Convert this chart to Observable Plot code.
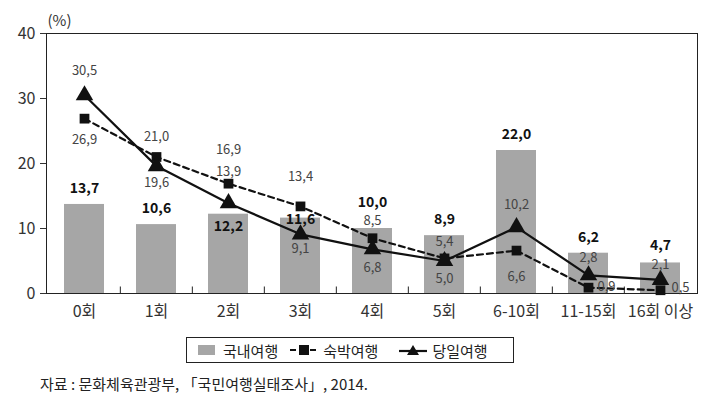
<!DOCTYPE html>
<html><head><meta charset="utf-8">
<script src="https://cdn.jsdelivr.net/npm/d3@7"></script>
<script src="https://cdn.jsdelivr.net/npm/@observablehq/plot@0.6"></script>
<style>
body{margin:0;background:#fff;font-family:'Noto Sans CJK KR',sans-serif;}
#wrap{position:relative;width:708px;height:400px;}
#legend{position:absolute;left:186px;top:337px;width:328px;height:26px;border:1px solid #222;box-sizing:border-box;display:flex;align-items:center;font-size:15px;color:#222;}
#legend span{display:inline-flex;align-items:center;}
#caption{position:absolute;left:40px;top:373px;font-size:15px;color:#222;}
</style></head>
<body><div id="wrap"><div id="chart"></div><div id="legend"></div><div id="caption"></div></div>
<script>
const categories = ["0회","1회","2회","3회","4회","5회","6-10회","11-15회","16회 이상"];
const domestic = [13.7,10.6,12.2,11.6,10.0,8.9,22.0,6.2,4.7];
const overnight = [26.9,21.0,16.9,13.4,8.5,5.4,6.6,0.9,0.5];
const dayTrip = [30.5,19.6,13.9,9.1,6.8,5.0,10.2,2.8,2.1];
const seriesNames = ["국내여행","숙박여행","당일여행"];
const yTicks = [0,10,20,30,40];

// label placement (pixels)
const barDy = [-16,-16,12,1,-26,-16,-16,-16,-17];
const overDy = [21,-20,-34,-30,-17,-17,26,-1,-2];
const overDx = [0,0,0,0,0,0,0,18,20];
const dayDy = [-24,17,-31,14,19,18,-22,-17,-15];

const rows = categories.map((c,i)=>({cat:c, dom:domestic[i], over:overnight[i], day:dayTrip[i], i}));
const fmt = v => v.toFixed(1).replace(".", ",");

const marks = [
  Plot.barY(rows, {x:"cat", y:"dom", fill:"#a6a6a6"}),
  Plot.frame({stroke:"#222", strokeWidth:1}),
  Plot.ruleX(categories.slice(1), {x: d=>d, y1:0, y2:1, stroke:"#222", dx: -((708-46-11)/9)/2}),
  Plot.line(rows, {x:"cat", y:"over", stroke:"#111", strokeWidth:2.2, strokeDasharray:"6,4"}),
  Plot.line(rows, {x:"cat", y:"day", stroke:"#111", strokeWidth:2.2}),
  Plot.dot(rows, {x:"cat", y:"over", symbol:"square", fill:"#111", r:5.5}),
  Plot.dot(rows, {x:"cat", y:"day", symbol:"triangle", fill:"#111", r:6.5}),
  Plot.text(["(%)"], {frameAnchor:"top-left", dx:1, dy:-18, fontSize:15, fill:"#333"}),
];
rows.forEach((d,i)=>{
  marks.push(Plot.text([d], {x:"cat", y:"dom", text:d=>fmt(d.dom), dy:barDy[i], fontSize:14, fontWeight:"bold", fill:"#111"}));
  marks.push(Plot.text([d], {x:"cat", y:"over", text:d=>fmt(d.over), dy:overDy[i], dx:overDx[i], fontSize:13, fill:"#444"}));
  marks.push(Plot.text([d], {x:"cat", y:"day", text:d=>fmt(d.day), dy:dayDy[i], fontSize:13, fill:"#444"}));
});

const chart = Plot.plot({
  width:708, height:330, marginTop:33, marginBottom:37, marginLeft:46, marginRight:11,
  style:{fontFamily:"'Noto Sans CJK KR', sans-serif", fontSize:"16px", color:"#333", background:"white"},
  x:{domain:categories, paddingInner:0.45, paddingOuter:0.225, label:null, tickSize:0, tickPadding:12},
  y:{domain:[0,40], ticks:yTicks, tickSize:6, tickPadding:5, label:null},
  marks
});
document.getElementById("chart").appendChild(chart);

const lg = document.getElementById("legend");
lg.innerHTML =
 `<span style="margin-left:11px"><svg width="17" height="10"><rect width="17" height="10" fill="#a6a6a6"/></svg><span style="margin-left:8px">${seriesNames[0]}</span></span>`+
 `<span style="margin-left:12px"><svg width="28" height="12"><line x1="0" x2="28" y1="6" y2="6" stroke="#111" stroke-width="2.2" stroke-dasharray="6,4"/><rect x="9" y="1" width="10" height="10" fill="#111"/></svg><span style="margin-left:5px">${seriesNames[1]}</span></span>`+
 `<span style="margin-left:21px"><svg width="28" height="12"><line x1="0" x2="28" y1="7" y2="7" stroke="#111" stroke-width="2.2"/><path d="M14,1 L20,11 L8,11 Z" fill="#111"/></svg><span style="margin-left:5px">${seriesNames[2]}</span></span>`;
document.getElementById("caption").textContent = "자료 : 문화체육관광부, 「국민여행실태조사」, 2014.";
</script></body></html>
